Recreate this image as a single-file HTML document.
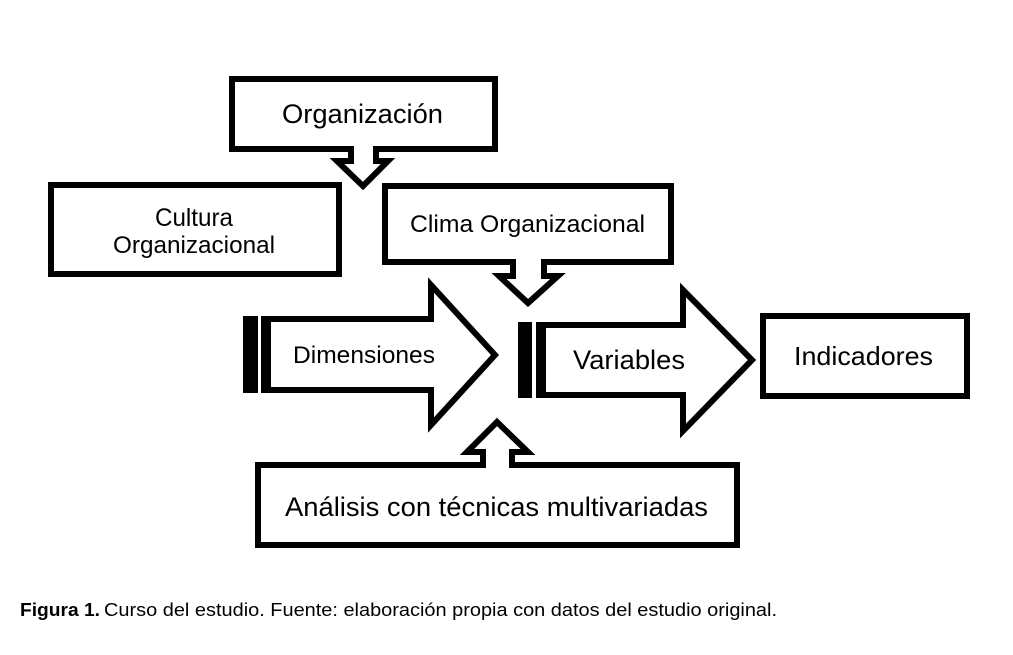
<!DOCTYPE html>
<html>
<head>
<meta charset="utf-8">
<style>
  html,body{margin:0;padding:0;background:#fff;}
  svg{display:block;}
  text{font-family:"Liberation Sans",Arial,sans-serif;fill:#000;}
</style>
</head>
<body>
<svg width="1013" height="655" viewBox="0 0 1013 655" xmlns="http://www.w3.org/2000/svg">
  <rect x="0" y="0" width="1013" height="655" fill="#fff"/>
  <g fill="#fff" stroke="#000" stroke-width="6" stroke-linejoin="miter" stroke-miterlimit="10">
    <!-- Organización callout -->
    <polygon points="232,79 495,79 495,149 376,149 376,161 388,161 363,186 337,161 351,161 351,149 232,149"/>
    <!-- Cultura -->
    <rect x="51" y="185" width="288" height="89"/>
    <!-- Clima callout -->
    <polygon points="385,186 671,186 671,262 544,262 544,276 558,276 528,303 499,276 513,276 513,262 385,262"/>
    <!-- Dimensiones arrow -->
    <polygon points="268,319 431,319 431,285 495,355 431,425 431,390 268,390"/>
    <!-- Variables arrow -->
    <polygon points="543,325 683,325 683,290 752,360 683,431 683,395 543,395"/>
    <!-- Indicadores -->
    <rect x="763" y="316" width="204" height="80"/>
    <!-- Análisis callout -->
    <polygon points="258,465 483,465 483,452 467,452 497,422 528,452 512,452 512,465 737,465 737,545 258,545"/>
  </g>
  <!-- stripes on Dimensiones -->
  <rect x="243" y="316" width="15" height="77" fill="#000"/>
  <rect x="261" y="316" width="10" height="77" fill="#000"/>
  <!-- stripes on Variables -->
  <rect x="518" y="322" width="14" height="76" fill="#000"/>
  <rect x="536" y="322" width="10" height="76" fill="#000"/>

  <!-- labels -->
  <text x="282" y="123" font-size="27" textLength="161" lengthAdjust="spacingAndGlyphs">Organización</text>
  <text x="155" y="226" font-size="25" textLength="78" lengthAdjust="spacingAndGlyphs">Cultura</text>
  <text x="113" y="253" font-size="24.5" textLength="162" lengthAdjust="spacingAndGlyphs">Organizacional</text>
  <text x="410" y="232" font-size="24.5" textLength="235" lengthAdjust="spacingAndGlyphs">Clima Organizacional</text>
  <text x="293" y="363" font-size="24.5" textLength="142" lengthAdjust="spacingAndGlyphs">Dimensiones</text>
  <text x="573" y="369" font-size="27" textLength="112" lengthAdjust="spacingAndGlyphs">Variables</text>
  <text x="794" y="365" font-size="26" textLength="139" lengthAdjust="spacingAndGlyphs">Indicadores</text>
  <text x="285" y="516" font-size="26.5" textLength="423" lengthAdjust="spacingAndGlyphs">Análisis con técnicas multivariadas</text>

  <!-- caption -->
  <text x="20" y="616" font-size="18" font-weight="bold" textLength="80" lengthAdjust="spacingAndGlyphs">Figura 1.</text>
  <text x="104" y="616" font-size="18" textLength="673" lengthAdjust="spacingAndGlyphs">Curso del estudio. Fuente: elaboración propia con datos del estudio original.</text>
</svg>
</body>
</html>
